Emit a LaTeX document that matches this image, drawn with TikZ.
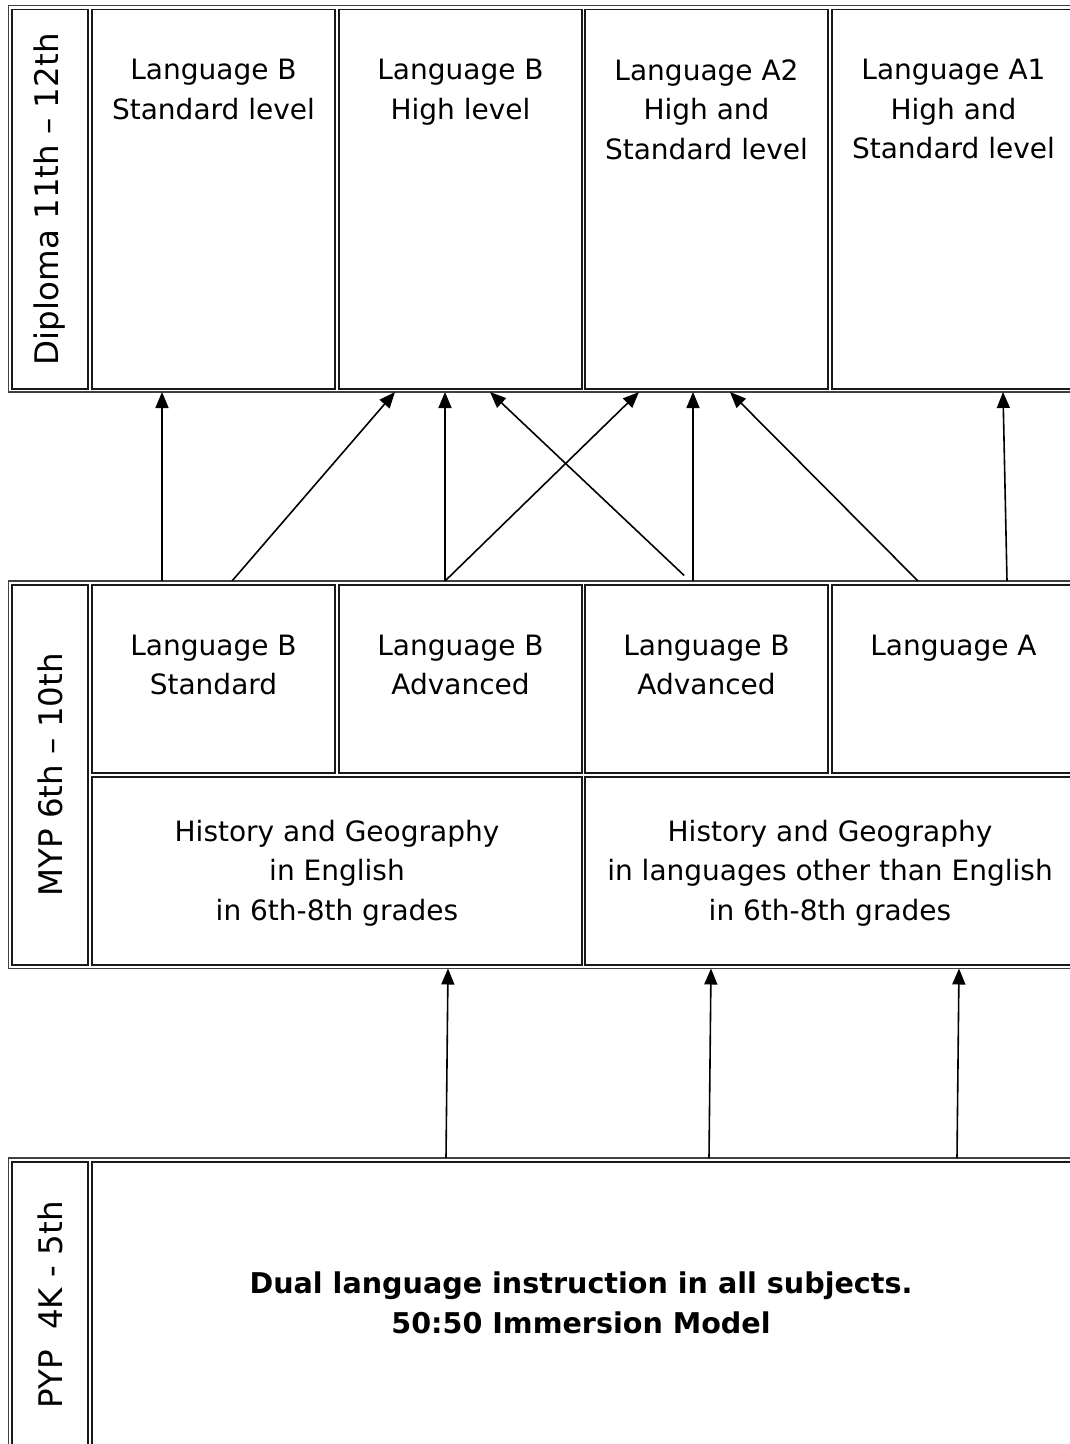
\documentclass[tikz,border=0pt]{standalone}
\usepackage{fontspec}
\setmainfont{DejaVu Sans}
\usetikzlibrary{arrows.meta,positioning}

\begin{document}
\begin{tikzpicture}[x=1pt,y=-1pt]
\tikzstyle{every node}=[inner sep=0pt,outer sep=0pt]
\tikzstyle{frame}=[draw=black!75,line width=1.8pt]
\tikzstyle{cell}=[draw=black!90,line width=1.5pt]
\tikzstyle{txt}=[align=center,font=\fontsize{28}{39.5}\selectfont]
\tikzstyle{side}=[rotate=90,font=\fontsize{32.5}{38}\selectfont]
\tikzstyle{arr}=[draw,line width=1.6pt,-{Triangle[length=16pt,width=13pt]}]

\useasboundingbox (0,0) rectangle (1070,1444);
\clip (0,0) rectangle (1070,1444);
\fill[white] (0,0) rectangle (1070,1444);

% Diploma
\node at (543.25,198.75) [frame,minimum width=1069.5pt,minimum height=386.5pt] (dipT) {};
\node at (50,199.25) [cell,minimum width=76pt,minimum height=379.5pt] (dipL) {};
\node at (213.5,199.25) [cell,minimum width=243pt,minimum height=379.5pt] (d1) {};
\node at (460.5,199.25) [cell,minimum width=243pt,minimum height=379.5pt] (d2) {};
\node at (706.5,199.25) [cell,minimum width=243pt,minimum height=379.5pt] (d3) {};
\node at (953.5,199.25) [cell,minimum width=243pt,minimum height=379.5pt] (d4) {};
\node [side] at (dipL) {Diploma 11th – 12th};
\node [txt,below=50pt of d1.north] (d1t) {Language B\\Standard level};
\node [txt,below=50pt of d2.north] (d2t) {Language B\\High level};
\node [txt,below=50pt of d3.north] (d3t) {Language A2\\High and\\Standard level};
\node [txt,below=50pt of d4.north] (d4t) {Language A1\\High and\\Standard level};

% MYP
\node at (543.25,774.75) [frame,minimum width=1069.5pt,minimum height=387.5pt] (mypT) {};
\node at (50,775) [cell,minimum width=76pt,minimum height=380pt] (mypL) {};
\node at (213.5,679) [cell,minimum width=243pt,minimum height=188pt] (m1) {};
\node at (460.5,679) [cell,minimum width=243pt,minimum height=188pt] (m2) {};
\node at (706.5,679) [cell,minimum width=243pt,minimum height=188pt] (m3) {};
\node at (953.5,679) [cell,minimum width=243pt,minimum height=188pt] (m4) {};
\node at (337,871) [cell,minimum width=490pt,minimum height=188pt] (h1) {};
\node at (830,871) [cell,minimum width=490pt,minimum height=188pt] (h2) {};
\node [side] at (mypL) {MYP 6th – 10th};
\node [txt,below=50pt of m1.north] (m1t) {Language B\\Standard};
\node [txt,below=50pt of m2.north] (m2t) {Language B\\Advanced};
\node [txt,below=50pt of m3.north] (m3t) {Language B\\Advanced};
\node [txt,below=50pt of m4.north] (m4t) {Language A};
\node [txt,below=43pt of h1.north] (h1t) {History and Geography\\in English\\in 6th-8th grades};
\node [txt,below=43pt of h2.north] (h2t) {History and Geography\\in languages other than English\\in 6th-8th grades};

% PYP
\node at (543.25,1305) [frame,minimum width=1069.5pt,minimum height=294pt] (pypT) {};
\node at (50,1305) [cell,minimum width=76pt,minimum height=286pt] (pypL) {};
\node at (583.5,1305) [cell,minimum width=983pt,minimum height=286pt] (pypC) {};
\node [side] at (pypL) {PYP\ \ 4K - 5th};
\node [txt,font=\fontsize{28.6}{39.5}\selectfont\bfseries] at (581,1303) (pypt) {Dual language instruction in all subjects.\\50:50 Immersion Model};

\path [arr] (mypT.north -| 162,0) -- (dipT.south -| 162,0);
\path [arr] (mypT.north -| 232,0) -- (dipT.south -| 395,0);
\path [arr] (mypT.north -| 445,0) -- (dipT.south -| 445,0);
\path [arr] (mypT.north -| 445,0) -- (dipT.south -| 639,0);
\path [arr,shorten <=8pt] (mypT.north -| 690,0) -- (dipT.south -| 490,0);
\path [arr] (mypT.north -| 693,0) -- (dipT.south -| 693,0);
\path [arr] (mypT.north -| 918,0) -- (dipT.south -| 730,0);
\path [arr] (mypT.north -| 1007,0) -- (dipT.south -| 1003,0);

\path [arr] (pypT.north -| 446,0) -- (mypT.south -| 448,0);
\path [arr] (pypT.north -| 709,0) -- (mypT.south -| 711,0);
\path [arr] (pypT.north -| 957,0) -- (mypT.south -| 959,0);

\end{tikzpicture}
\end{document}
